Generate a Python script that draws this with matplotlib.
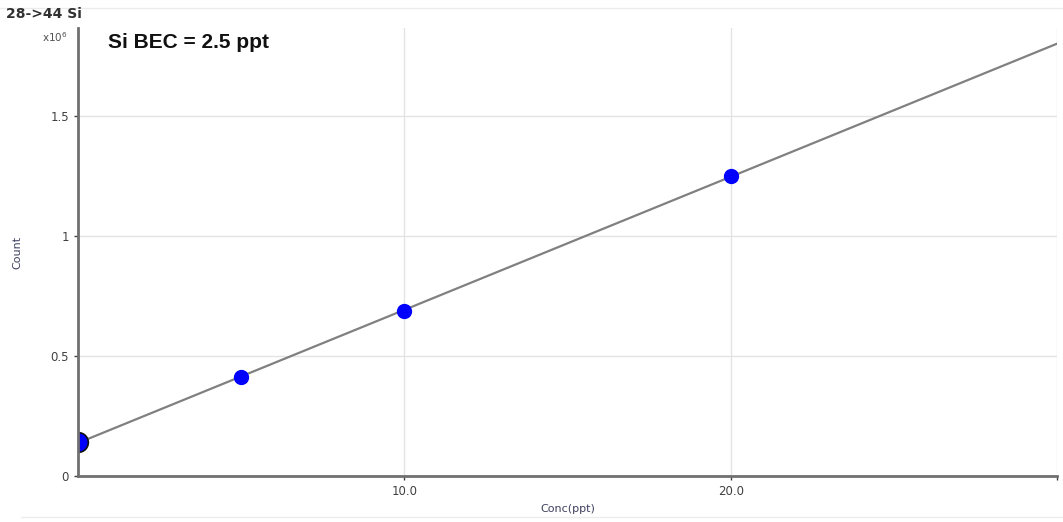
import matplotlib.pyplot as plt
import numpy as np

# calibration standards: concentration (ppt) and count (x10^6)
conc = [0.0, 5.0, 10.0, 20.0]
count = [0.142, 0.4125, 0.6875, 1.25]
x_ticks = [10.0, 20.0]
x_tick_labels = ["10.0", "20.0"]
y_ticks = [0, 0.5, 1, 1.5]
y_tick_labels = ["0", "0.5", "1", "1.5"]

# linear calibration fit
slope, intercept = np.polyfit(conc, count, 1)
x_line = np.array([0, 30])

fig = plt.figure(figsize=(10.63, 5.22), dpi=100)
ax = fig.add_axes([0.0734, 0.0881, 0.9210, 0.8583])

ax.plot(x_line, slope * x_line + intercept, color="#808080", lw=1.6, zorder=2)
ax.scatter(conc[1:], count[1:], s=100, color="#0000ff", zorder=3)
blank = ax.scatter(conc[:1], count[:1], s=200, color="#0000ff",
                   edgecolors="#111111", linewidths=1.2, zorder=4)
blank.set_clip_path(ax.patch)

ax.set_xlim(0, 30)
ax.set_ylim(0, 1.867)
ax.set_xticks(x_ticks + [30])
ax.set_xticklabels(x_tick_labels + [""])
ax.set_yticks(y_ticks)
ax.set_yticklabels(y_tick_labels)
ax.grid(True, color="#e4e4e4", lw=1)
ax.set_axisbelow(True)
ax.tick_params(labelsize=8.5, colors="#404040", length=3, width=1)

for side in ["top", "right"]:
    ax.spines[side].set_visible(False)
for side in ["left", "bottom"]:
    ax.spines[side].set_color("#707070")
    ax.spines[side].set_linewidth(2)
    ax.spines[side].set_zorder(5)

ax.set_xlabel("Conc(ppt)", fontsize=8, color="#404060", labelpad=4)
ax.set_ylabel("Count", fontsize=8, color="#404060", labelpad=20)

fig.text(0.006, 0.973, "28->44 Si", fontsize=10, fontweight="bold",
         color="#303030", va="center", ha="left")
fig.text(0.064, 0.929, r"x10$^{6}$", fontsize=7.5, color="#505050",
         va="center", ha="right")
fig.text(0.102, 0.919, "Si BEC = 2.5 ppt", fontsize=15, fontweight="bold",
         family="Liberation Sans", color="#111111", va="center", ha="left")

# thin frame lines at top and bottom of the panel
fig.add_artist(plt.Line2D([0, 1], [0.985, 0.985], color="#ececec", lw=1))
fig.add_artist(plt.Line2D([0.02, 1], [0.01, 0.01], color="#ececec", lw=1))

fig.savefig("out.png", dpi=100)
